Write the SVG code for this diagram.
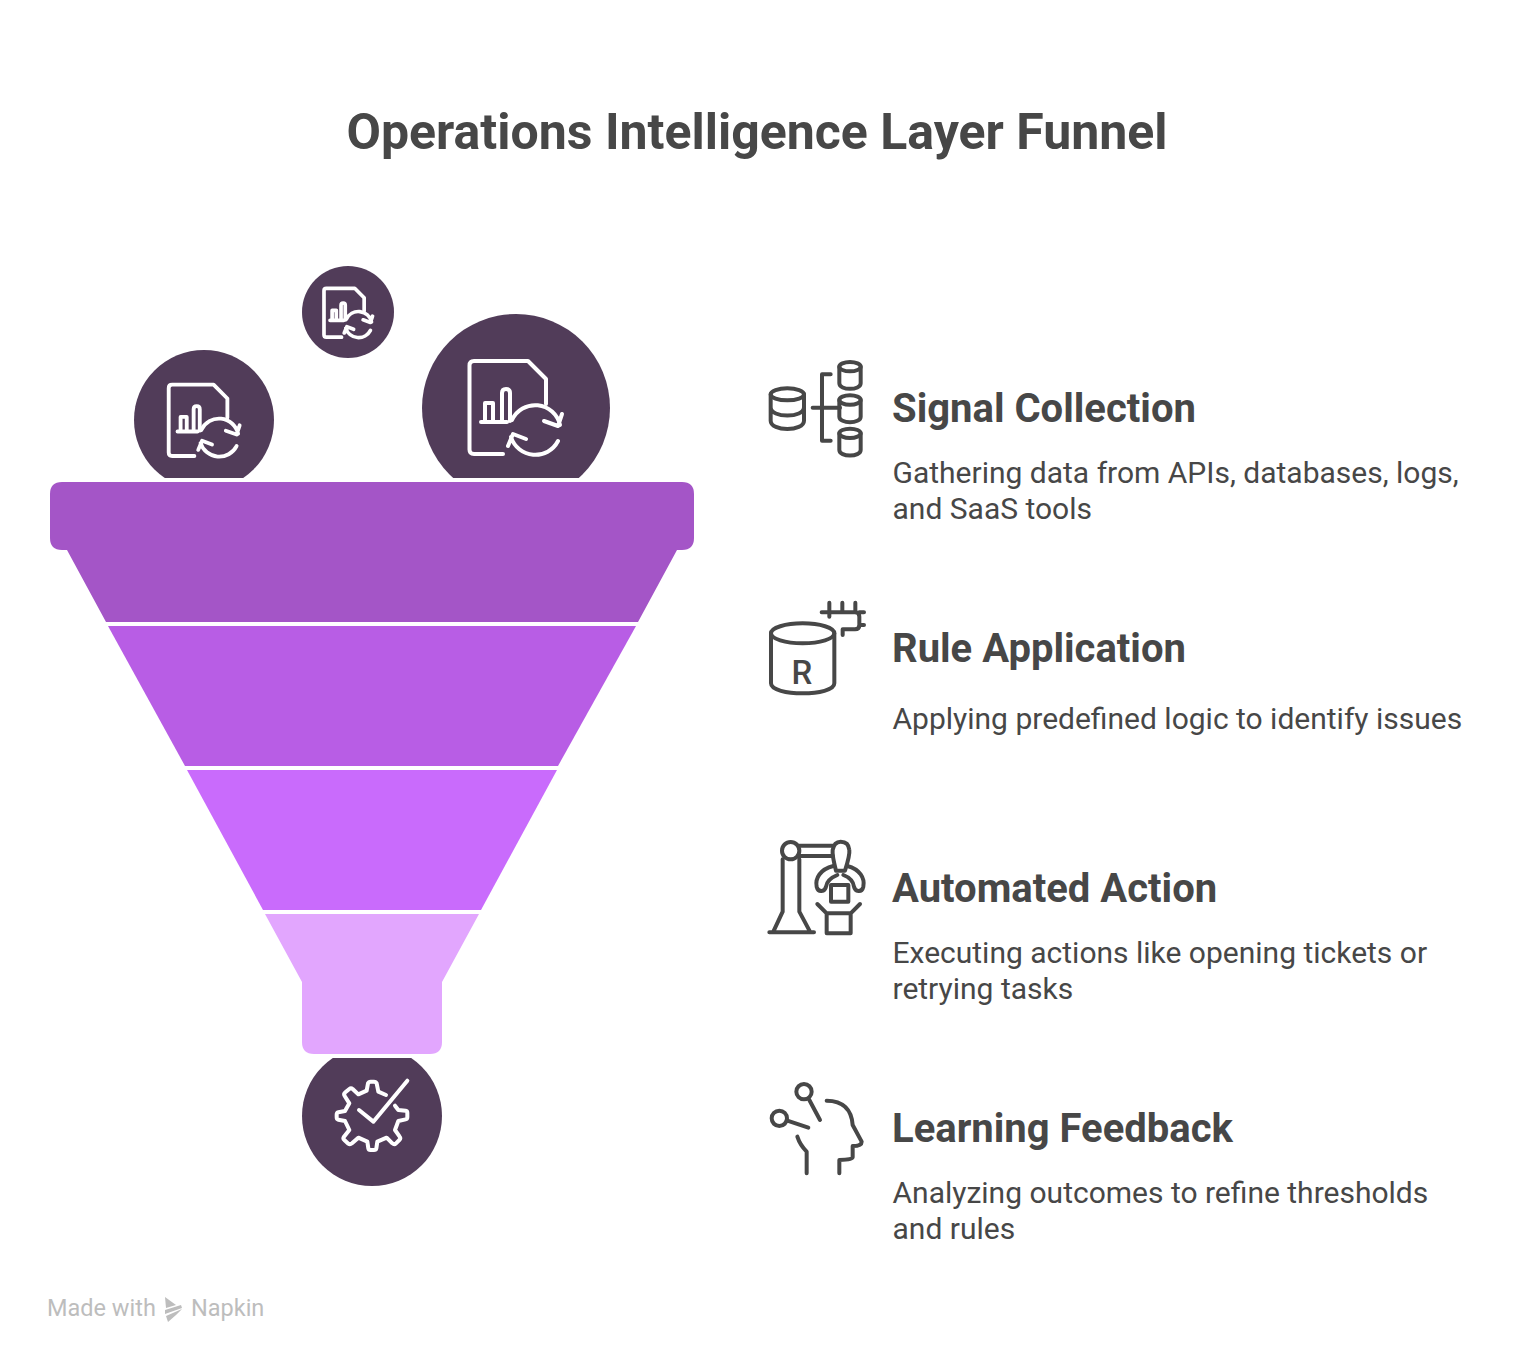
<svg xmlns="http://www.w3.org/2000/svg" width="1537" height="1364" viewBox="0 0 1537 1364">
<style>
text{font-family:Roboto,"Liberation Sans",sans-serif;fill:#474747}
.title{font-size:50px;font-weight:700}
.head{font-size:40px;font-weight:700}
.desc{font-size:30px;font-weight:400}
.ic{fill:none;stroke:#474747;stroke-width:12;stroke-linecap:round;stroke-linejoin:round}
.wh{fill:none;stroke:#fff;stroke-linecap:round;stroke-linejoin:round}
.dark{fill:#513c59}
.brand{font-size:23.500px;font-weight:400}
#watermark text{fill:#bdbdbd}
</style>
<defs>
<clipPath id="aboveFunnel"><rect x="0" y="0" width="800" height="478"/></clipPath>
<clipPath id="belowFunnel"><rect x="200" y="1058" width="400" height="200"/></clipPath>
<g id="docIcon">
<path d="M503 454H474Q469.500 454 469.500 449.500V365.500Q469.500 361 474 361H528L546 379V404"/>
<path d="M481 422H507M485 421V403H493V421M502 421V393Q502 389 506 389Q510 389 510 393V421"/>
<path d="M512 420A25.500 25.500 0 0 1 560 425M562 414L558 426L544 421"/>
<path d="M558 441A25.500 25.500 0 0 1 511 437M508 446L513 434L526 439"/>
</g>
</defs>
<rect width="1537" height="1364" fill="#fff"/>
<text class="title" x="757" y="149" text-anchor="middle">Operations Intelligence Layer Funnel</text>

<g id="ball-small">
<circle class="dark" cx="348" cy="312" r="46"/>
<use href="#docIcon" class="wh" stroke-width="7" transform="translate(77.500 98.800) scale(.525)"/>
</g>
<g id="ball-left" clip-path="url(#aboveFunnel)">
<circle class="dark" cx="204" cy="420" r="70"/>
<use href="#docIcon" class="wh" stroke-width="5" transform="translate(-191.400 107.800) scale(.767)"/>
</g>
<g id="ball-right" clip-path="url(#aboveFunnel)">
<circle class="dark" cx="516" cy="408" r="94"/>
<use href="#docIcon" class="wh" stroke-width="4"/>
</g>

<g id="funnel">
<path id="band-1" fill="#a455c7" d="M62 482H682Q694 482 694 494V538Q694 550 682 550H677L638 622H106L67 550H62Q50 550 50 538V494Q50 482 62 482Z"/>
<path id="band-2" fill="#b85de5" d="M108 626H636L558 766H185Z"/>
<path id="band-3" fill="#c96bfc" d="M187 770H557L481 910H263Z"/>
<path id="band-4" fill="#e2a6fe" d="M265 914H479L442 982V1042Q442 1054 430 1054H314Q302 1054 302 1042V982Z"/>
</g>

<g id="ball-bottom">
<circle class="dark" cx="372" cy="1116" r="70" clip-path="url(#belowFunnel)"/>
<g transform="translate(290 1040) scale(.33333)" class="wh" stroke-width="12">
<path d="M288 165L265 155L260 130Q258 125 252 125H242Q236 125 234 130L230 152L205 163L188 147Q183 143 178 147L166 157Q160 162 164 168L178 190L165 213L145 217Q140 218 140 224V232Q140 238 145 239L165 243L178 270L162 290Q158 296 163 300L175 311Q180 315 186 310L205 293L232 305L235 325Q236 330 241 330H252Q258 330 259 325L262 305L290 293L307 310Q313 315 318 310L328 300Q333 295 329 290L315 270L325 243L347 238Q352 237 352 232V218Q352 213 347 212L325 210L315 197"/>
<path d="M207 210L250 245L352 122"/>
</g>
</g>

<g id="step-1">
<g class="ic" transform="translate(760 350) scale(.33333)">
<ellipse cx="82" cy="133" rx="50" ry="18"/>
<path d="M32 133V212C32 245 132 245 132 212V133M32 172C32 205 132 205 132 172"/>
<path d="M158 173H240M212 73H186V272H212"/>
<ellipse cx="270" cy="50" rx="32" ry="14"/>
<path d="M238 50V100C238 122 302 122 302 100V50"/>
<ellipse cx="270" cy="150" rx="32" ry="14"/>
<path d="M238 150V200C238 222 302 222 302 200V150"/>
<ellipse cx="270" cy="250" rx="32" ry="14"/>
<path d="M238 250V300C238 322 302 322 302 300V250"/>
</g>
<text class="head" x="892" y="422">Signal Collection</text>
<text class="desc" x="892.500" y="483">Gathering data from APIs, databases, logs,</text>
<text class="desc" x="892.500" y="519">and SaaS tools</text>
</g>

<g id="step-2">
<g class="ic" transform="translate(760 590) scale(.33333)">
<ellipse cx="128" cy="130" rx="95" ry="30"/>
<path d="M33 130V280C33 320 223 320 223 280V130"/>
<path d="M185 67H285Q298 67 298 80V105Q298 118 285 118H248V135M208 38V80M247 38V67M286 38V67M298 67H312M298 105H312"/>
</g>
<text x="802" y="684" text-anchor="middle" style="font-size:33px;font-weight:500">R</text>
<text class="head" x="892" y="662">Rule Application</text>
<text class="desc" x="892.500" y="729">Applying predefined logic to identify issues</text>
</g>

<g id="step-3">
<g class="ic" transform="translate(760 830) scale(.33333)">
<circle cx="92" cy="62" r="26"/>
<path d="M118 47H218M118 78H218M68 88V245L40 305M118 88V245L150 305M28 307H162"/>
<path d="M228 122Q216 75 218 60Q222 35 242 35Q266 35 268 60Q270 75 255 122Z"/>
<path d="M220 108C180 118 165 145 170 170C175 190 195 185 198 170C200 155 215 142 232 135M262 108C300 118 315 145 310 170C305 190 285 185 282 170C280 155 268 142 250 135"/>
<rect x="213" y="165" width="52" height="50"/>
<path d="M172 222L200 250H272L300 222M200 250V310H272V250"/>
</g>
<text class="head" x="892" y="902">Automated Action</text>
<text class="desc" x="892.500" y="963">Executing actions like opening tickets or</text>
<text class="desc" x="892.500" y="999">retrying tasks</text>
</g>

<g id="step-4">
<g class="ic" transform="translate(760 1070) scale(.33333)">
<circle cx="132" cy="65" r="23"/>
<path d="M148 90L180 150"/>
<circle cx="58" cy="145" r="23"/>
<path d="M82 152L145 173"/>
<path d="M200 92C250 92 275 120 278 165L305 215Q305 228 278 228V262Q278 270 238 270V310"/>
<path d="M112 200Q120 225 140 245V310"/>
</g>
<text class="head" x="892" y="1142">Learning Feedback</text>
<text class="desc" x="892.500" y="1203">Analyzing outcomes to refine thresholds</text>
<text class="desc" x="892.500" y="1239">and rules</text>
</g>

<g id="watermark">
<text class="brand" x="47" y="1316">Made with</text>
<path fill="#bdbdbd" d="M165 1297L176 1305L166 1308ZM165 1310L181 1305L182 1308L165 1314ZM166 1316L182 1309L176 1315L168 1322Z"/>
<text class="brand" x="191" y="1316">Napkin</text>
</g>
</svg>
